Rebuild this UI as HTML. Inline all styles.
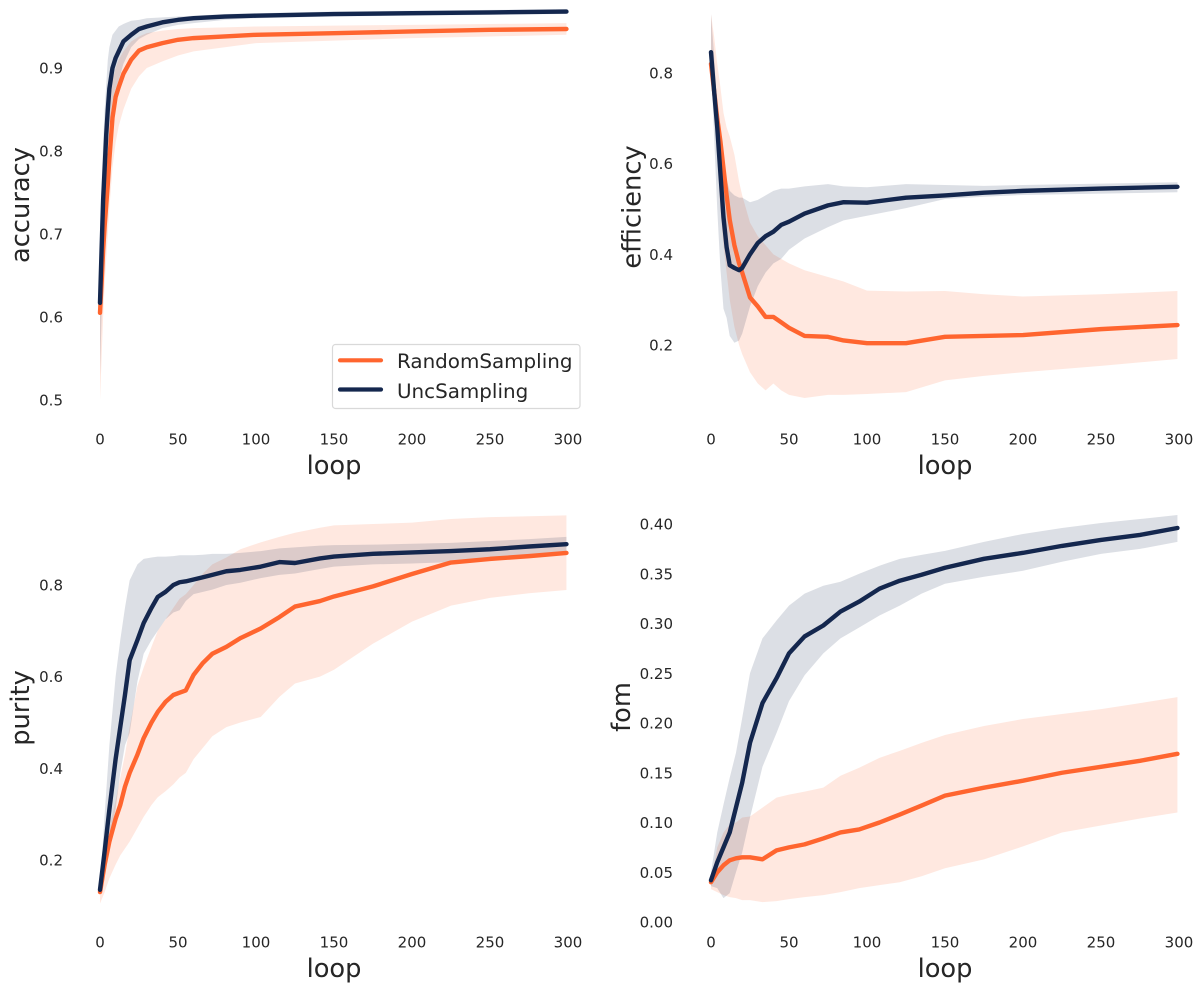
<!DOCTYPE html>
<html>
<head>
<meta charset="utf-8">
<title>Sampling comparison</title>
<style>
html,body{margin:0;padding:0;background:#fff;width:1200px;height:992px;overflow:hidden}
svg{display:block}
text{font-family:"DejaVu Sans","Liberation Sans",sans-serif;fill:#262626}
</style>
</head>
<body>
<svg id="chart" width="1200" height="992" viewBox="0 0 1200 992" xmlns="http://www.w3.org/2000/svg"></svg>
<script>
const xTicks = [0, 50, 100, 150, 200, 250, 300];

const accLoops = [0,1,2,3,4,5,6,8,10,12,15,20,25,30,40,50,60,80,100,150,200,250,299];
const accRandMean = [.605,.64,.68,.71,.735,.76,.79,.84,.865,.877,.893,.91,.921,.925,.93,.934,.936,.938,.94,.942,.944,.946,.947];
const accUncMean = [.617,.68,.741,.78,.82,.85,.875,.90,.912,.92,.932,.94,.947,.95,.955,.958,.96,.962,.963,.965,.966,.967,.968];
const accRandLo = [.50,.55,.60,.64,.67,.70,.73,.78,.81,.83,.85,.875,.89,.90,.908,.915,.92,.925,.93,.933,.936,.938,.94];
const accRandHi = [.68,.72,.76,.79,.82,.84,.86,.885,.90,.91,.92,.932,.938,.942,.945,.947,.948,.949,.95,.951,.952,.953,.954];
const accUncLo = [.53,.60,.68,.73,.77,.80,.83,.86,.875,.885,.905,.925,.935,.94,.948,.952,.954,.958,.96,.962,.963,.964,.965];
const accUncHi = [.70,.76,.81,.85,.88,.91,.925,.94,.945,.95,.953,.957,.958,.96,.961,.962,.963,.965,.966,.968,.969,.97,.971];
const accTicks = [0.5, 0.6, 0.7, 0.8, 0.9];

const effLoops = [0,2,4,6,8,10,12,15,18,20,25,30,35,40,45,50,60,75,85,100,125,150,175,200,250,299];
const effRandMean = [.82,.76,.70,.65,.59,.53,.476,.42,.38,.36,.305,.285,.262,.262,.25,.238,.22,.218,.21,.204,.204,.218,.22,.222,.235,.244];
const effUncMean = [.846,.76,.68,.58,.482,.416,.376,.37,.365,.37,.40,.425,.44,.45,.465,.472,.49,.508,.515,.514,.525,.53,.536,.54,.545,.549];
const effRandLo = [.82,.72,.62,.50,.42,.36,.30,.24,.20,.18,.14,.115,.10,.115,.10,.09,.083,.09,.09,.092,.096,.122,.132,.14,.154,.169];
const effRandHi = [.93,.88,.82,.77,.712,.68,.66,.62,.56,.53,.47,.44,.42,.40,.39,.38,.365,.35,.34,.32,.318,.319,.312,.307,.312,.319];
const effUncLo = [.82,.66,.50,.37,.28,.26,.22,.205,.21,.225,.285,.33,.36,.38,.39,.41,.435,.46,.475,.485,.502,.522,.527,.531,.534,.537];
const effUncHi = [.93,.84,.72,.64,.59,.565,.54,.53,.525,.525,.515,.52,.53,.54,.545,.545,.55,.555,.55,.548,.555,.553,.551,.553,.556,.559];
const effTicks = [0.2, 0.4, 0.6, 0.8];

const purLoops = [0,3,6,10,13,16,19,24,28,33,37,42,47,51,55,60,66,72,81,90,103,115,125,141,150,175,200,225,250,275,299];
const purRandMean = [.13,.19,.24,.29,.32,.36,.39,.43,.466,.50,.523,.545,.56,.565,.57,.604,.63,.65,.665,.684,.705,.73,.753,.765,.775,.797,.824,.849,.857,.863,.87];
const purUncMean = [.135,.22,.31,.42,.49,.56,.636,.68,.717,.75,.774,.785,.80,.806,.808,.812,.817,.822,.83,.833,.84,.85,.848,.858,.862,.868,.871,.874,.878,.884,.889];
const purRandLo = [.105,.13,.16,.19,.21,.225,.24,.27,.294,.32,.337,.35,.365,.38,.39,.42,.445,.47,.49,.50,.512,.556,.585,.60,.615,.672,.72,.755,.772,.782,.789];
const purRandHi = [.14,.20,.27,.33,.38,.43,.49,.58,.62,.665,.70,.725,.75,.77,.78,.80,.825,.845,.86,.878,.893,.905,.914,.925,.93,.933,.936,.944,.948,.95,.952];
const purUncLo = [.13,.18,.25,.31,.39,.45,.477,.59,.65,.68,.70,.725,.74,.745,.765,.78,.785,.79,.80,.805,.815,.822,.825,.835,.84,.845,.847,.85,.858,.865,.872];
const purUncHi = [.14,.30,.45,.60,.68,.75,.81,.845,.857,.86,.862,.862,.863,.865,.865,.865,.866,.868,.868,.87,.874,.88,.882,.886,.887,.888,.89,.892,.896,.90,.905];
const purTicks = [0.2, 0.4, 0.6, 0.8];

const fomLoops = [0,4,8,12,16,20,25,33,42,50,60,72,83,95,108,121,135,150,175,200,225,250,275,299];
const fomRandMean = [.04,.05,.057,.062,.064,.065,.065,.063,.072,.075,.078,.084,.09,.093,.10,.108,.117,.127,.135,.142,.15,.156,.162,.169];
const fomUncMean = [.042,.06,.075,.09,.115,.14,.18,.22,.245,.27,.287,.298,.312,.322,.335,.343,.349,.356,.365,.371,.378,.384,.389,.396];
const fomRandLo = [.033,.03,.027,.025,.024,.022,.022,.02,.021,.023,.025,.027,.03,.034,.037,.04,.046,.054,.063,.076,.09,.097,.104,.11];
const fomRandHi = [.042,.075,.09,.098,.10,.105,.106,.115,.125,.128,.131,.135,.147,.155,.165,.172,.18,.188,.197,.204,.209,.214,.22,.226];
const fomUncLo = [.036,.034,.024,.029,.05,.07,.105,.156,.19,.222,.248,.27,.285,.296,.308,.318,.33,.34,.347,.353,.362,.37,.375,.382];
const fomUncHi = [.05,.09,.118,.145,.17,.205,.25,.285,.303,.318,.33,.338,.342,.35,.358,.365,.369,.373,.382,.39,.396,.401,.405,.409];
const fomTicks = [0.00, 0.05, 0.10, 0.15, 0.20, 0.25, 0.30, 0.35, 0.40];

const ORANGE = '#ff652f';
const NAVY = '#14274e';
const svg = document.getElementById('chart');
const NS = 'http://www.w3.org/2000/svg';

function make(tag, parent, props) {
  const el = document.createElementNS(NS, tag);
  for (const k in props) el.setAttribute(k, props[k]);
  parent.appendChild(el);
  return el;
}

function linePath(loops, values, xs, ys) {
  return loops.map((l, i) => (i ? 'L' : 'M') + xs(l).toFixed(2) + ' ' + ys(values[i]).toFixed(2)).join('');
}

function bandPath(loops, lo, hi, xs, ys) {
  const top = loops.map((l, i) => (i ? 'L' : 'M') + xs(l).toFixed(2) + ' ' + ys(hi[i]).toFixed(2)).join('');
  let bottom = '';
  for (let i = loops.length - 1; i >= 0; i--) {
    bottom += 'L' + xs(loops[i]).toFixed(2) + ' ' + ys(lo[i]).toFixed(2);
  }
  return top + bottom + 'Z';
}

function drawPanel(p) {
  const g = make('g', svg, {});
  
  

  const xs = v => p.x0 + v * 1.56;
  const ys = v => p.yA + (v - p.vA) * (p.yB - p.yA) / (p.vB - p.vA);

  const randBand = make('path', g, { d: bandPath(p.loops, p.randLo, p.randHi, xs, ys), fill: ORANGE, 'fill-opacity': 0.15 });
  
  

  const uncBand = make('path', g, { d: bandPath(p.loops, p.uncLo, p.uncHi, xs, ys), fill: NAVY, 'fill-opacity': 0.15 });
  
  

  const randLine = make('path', g, { d: linePath(p.loops, p.randMean, xs, ys), fill: 'none', stroke: ORANGE, 'stroke-width': 4.4, 'stroke-linejoin': 'round', 'stroke-linecap': 'round' });
  
  

  const uncLine = make('path', g, { d: linePath(p.loops, p.uncMean, xs, ys), fill: 'none', stroke: NAVY, 'stroke-width': 4.4, 'stroke-linejoin': 'round', 'stroke-linecap': 'round' });
  
  

  xTicks.forEach(t => {
    const label = make('text', g, { x: xs(t), y: p.xTickY, 'text-anchor': 'middle', 'font-size': 15 });
    label.textContent = String(t);
    
    
  });

  p.ticks.forEach(t => {
    const label = make('text', g, { x: p.yTickX, y: ys(t) + 5.5, 'text-anchor': 'end', 'font-size': 15 });
    label.textContent = t.toFixed(p.decimals);
    
    
  });

  const xTitle = make('text', g, { x: xs(150), y: p.xTitleY, 'text-anchor': 'middle', 'font-size': 25.7 });
  xTitle.textContent = 'loop';
  
  

  const yTitle = make('text', g, { transform: 'translate(' + p.yTitleX + ' ' + p.yTitleY + ') rotate(-90)', 'text-anchor': 'middle', 'font-size': 25.7 });
  yTitle.textContent = p.name;
  
  
}

drawPanel({ name: 'accuracy', loops: accLoops, randMean: accRandMean, uncMean: accUncMean, randLo: accRandLo, randHi: accRandHi, uncLo: accUncLo, uncHi: accUncHi, ticks: accTicks, decimals: 1, x0: 100, vA: 0.5, yA: 400, vB: 0.9, yB: 68, xTickY: 444.5, xTitleY: 474, yTickX: 63, yTitleX: 29, yTitleY: 205 });
drawPanel({ name: 'efficiency', loops: effLoops, randMean: effRandMean, uncMean: effUncMean, randLo: effRandLo, randHi: effRandHi, uncLo: effUncLo, uncHi: effUncHi, ticks: effTicks, decimals: 1, x0: 711, vA: 0.2, yA: 345, vB: 0.8, yB: 73, xTickY: 444.5, xTitleY: 474, yTickX: 673, yTitleX: 640.5, yTitleY: 207 });
drawPanel({ name: 'purity', loops: purLoops, randMean: purRandMean, uncMean: purUncMean, randLo: purRandLo, randHi: purRandHi, uncLo: purUncLo, uncHi: purUncHi, ticks: purTicks, decimals: 1, x0: 100, vA: 0.2, yA: 860, vB: 0.8, yB: 585, xTickY: 947.5, xTitleY: 977, yTickX: 63, yTitleX: 29, yTitleY: 708 });
drawPanel({ name: 'fom', loops: fomLoops, randMean: fomRandMean, uncMean: fomUncMean, randLo: fomRandLo, randHi: fomRandHi, uncLo: fomUncLo, uncHi: fomUncHi, ticks: fomTicks, decimals: 2, x0: 711, vA: 0, yA: 922, vB: 0.4, yB: 524, xTickY: 947.5, xTitleY: 977, yTickX: 673, yTitleX: 630, yTitleY: 707 });

const legend = make('g', svg, {});


const legendBox = make('rect', legend, { x: 332.5, y: 344.5, width: 247.5, height: 64, rx: 3, fill: '#fff', 'fill-opacity': 0.8, stroke: '#d9d9d9', 'stroke-width': 1.2 });


const legendSwatchRandom = make('line', legend, { x1: 340, x2: 381, y1: 360.3, y2: 360.3, stroke: ORANGE, 'stroke-width': 4.2, 'stroke-linecap': 'round' });


const legendTextRandom = make('text', legend, { x: 397, y: 368, 'font-size': 19.9 });
legendTextRandom.textContent = 'RandomSampling';


const legendSwatchUnc = make('line', legend, { x1: 340, x2: 381, y1: 389.5, y2: 389.5, stroke: NAVY, 'stroke-width': 4.2, 'stroke-linecap': 'round' });


const legendTextUnc = make('text', legend, { x: 397, y: 398, 'font-size': 19.9 });
legendTextUnc.textContent = 'UncSampling';


</script>
</body>
</html>
